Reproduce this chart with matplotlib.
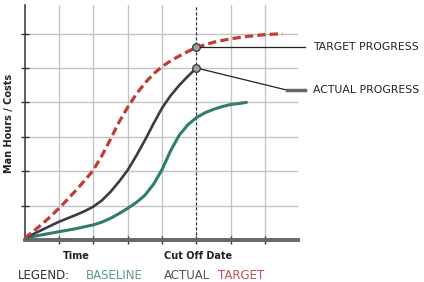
import matplotlib
matplotlib.use("Agg")
import matplotlib.pyplot as plt

# ---- data ----
target_x = [0, 0.25, 0.5, 0.75, 1, 1.25, 1.5, 1.75, 2, 2.25, 2.5, 2.75, 3, 3.25, 3.5, 3.75,
            4, 4.25, 4.5, 4.75, 5, 5.5, 6, 6.5, 7, 7.5]
target_y = [0.05, 0.25, 0.45, 0.68, 0.92, 1.18, 1.45, 1.73, 2.03, 2.45, 2.93, 3.43, 3.86, 4.24, 4.56, 4.83,
            5.04, 5.21, 5.35, 5.48, 5.6, 5.75, 5.85, 5.92, 5.97, 6.0]

actual_x = [0, 0.25, 0.5, 0.75, 1, 1.25, 1.5, 1.75, 2, 2.25, 2.5, 2.75, 3, 3.25, 3.5, 3.75,
            4, 4.25, 4.5, 4.75, 5]
actual_y = [0.05, 0.17, 0.29, 0.41, 0.53, 0.63, 0.73, 0.84, 0.97, 1.15, 1.4, 1.7, 2.03, 2.45, 2.9, 3.38,
            3.84, 4.2, 4.5, 4.76, 5.0]

baseline_x = [0, 0.5, 1, 1.5, 2, 2.25, 2.5, 2.75, 3, 3.25, 3.5, 3.75, 4, 4.25, 4.5, 4.75,
              5, 5.25, 5.5, 5.75, 6, 6.25, 6.45]
baseline_y = [0.05, 0.15, 0.24, 0.33, 0.44, 0.52, 0.63, 0.77, 0.92, 1.09, 1.3, 1.62, 2.05, 2.6, 3.05, 3.35,
              3.56, 3.7, 3.8, 3.88, 3.94, 3.97, 4.0]

cutoff_x = 5
x_ticks = [1, 2, 3, 4, 5, 6, 7]
y_ticks = [1, 2, 3, 4, 5, 6]
x_labels = {1.5: "Time", 5.05: "Cut Off Date"}

RED = "#c43a35"
DARK = "#3b3b45"
TEAL = "#2f7d6b"

W, H = 424, 282
fig = plt.figure(figsize=(W / 100, H / 100), dpi=100)
fig.patch.set_facecolor("white")

x0, x1 = 24.5, 298
y0, y1 = 240, 5
ax = fig.add_axes([x0 / W, (H - y0) / H, (x1 - x0) / W, (y0 - y1) / H])
unit = 34.4
ax.set_xlim(0, (x1 - x0) / unit)
ax.set_ylim(0, (y0 - y1) / unit)

for s in ["top", "right"]:
    ax.spines[s].set_visible(False)
ax.spines["left"].set_color("#333333")
ax.spines["left"].set_linewidth(1.1)
ax.spines["bottom"].set_color("#666666")
ax.spines["bottom"].set_linewidth(2.8)

ax.set_xticks(x_ticks)
ax.set_yticks(y_ticks)
ax.set_xticklabels([])
ax.set_yticklabels([])
ax.tick_params(axis="both", direction="inout", length=6, width=1, color="#333333")

for xv in x_ticks:
    if xv != cutoff_x:
        ax.axvline(xv, color="#c4c4c4", lw=1, zorder=1)
for yv in y_ticks:
    ax.axhline(yv, color="#c4c4c4", lw=1, zorder=1)

ax.axvline(cutoff_x, color="#333333", lw=0.9, ls=(0, (2.5, 1.5)), zorder=2)

ax.plot(baseline_x, baseline_y, color=TEAL, lw=2.2, zorder=3,
        solid_capstyle="round", solid_joinstyle="round")
ax.plot(actual_x, actual_y, color=DARK, lw=1.9, zorder=4,
        solid_capstyle="round", solid_joinstyle="round")
ax.plot(target_x, target_y, color=RED, lw=2.3, ls=(0, (2.6, 1.3)), zorder=4,
        dash_joinstyle="round")

# annotation lines
t_y = target_y[target_x.index(cutoff_x)]
a_y = actual_y[actual_x.index(cutoff_x)]
ax.plot([cutoff_x, 8.15], [t_y, t_y], color="#222222", lw=0.9, clip_on=False, zorder=5)
ax.plot([cutoff_x, 7.62], [a_y, 4.36], color="#222222", lw=0.9, clip_on=False, zorder=5)
ax.plot([7.62, 8.15], [4.36, 4.36], color="#666666", lw=2.5, clip_on=False, zorder=5)

ax.plot([cutoff_x, cutoff_x], [t_y, a_y], ls="none", marker="o", ms=5.5,
        mfc="#a0a0a0", mec="#333333", mew=0.9, zorder=6)

ax.text(8.38, t_y, "TARGET PROGRESS", fontsize=7.8, color="#222222",
        va="center", ha="left", clip_on=False)
ax.text(8.38, 4.36, "ACTUAL PROGRESS", fontsize=7.8, color="#222222",
        va="center", ha="left", clip_on=False)

for xv, lab in x_labels.items():
    fig.text((x0 + xv * unit) / W, (H - 256) / H, lab, fontsize=7, fontweight="bold",
             color="#222222", ha="center", va="center")

fig.text(9 / W, (H - 123) / H, "Man Hours / Costs", fontsize=7, fontweight="bold",
         color="#222222", rotation=90, ha="center", va="center")

ly = (H - 275.5) / H
fig.text(18 / W, ly, "LEGEND:", fontsize=8.5, color="#333333", ha="left", va="center")
fig.text(86 / W, ly, "BASELINE", fontsize=8.5, color="#5e9a8c", ha="left", va="center")
fig.text(164 / W, ly, "ACTUAL", fontsize=8.5, color="#555555", ha="left", va="center")
fig.text(218 / W, ly, "TARGET", fontsize=8.5, color="#c0504d", ha="left", va="center")

fig.savefig("out.png", dpi=100)
